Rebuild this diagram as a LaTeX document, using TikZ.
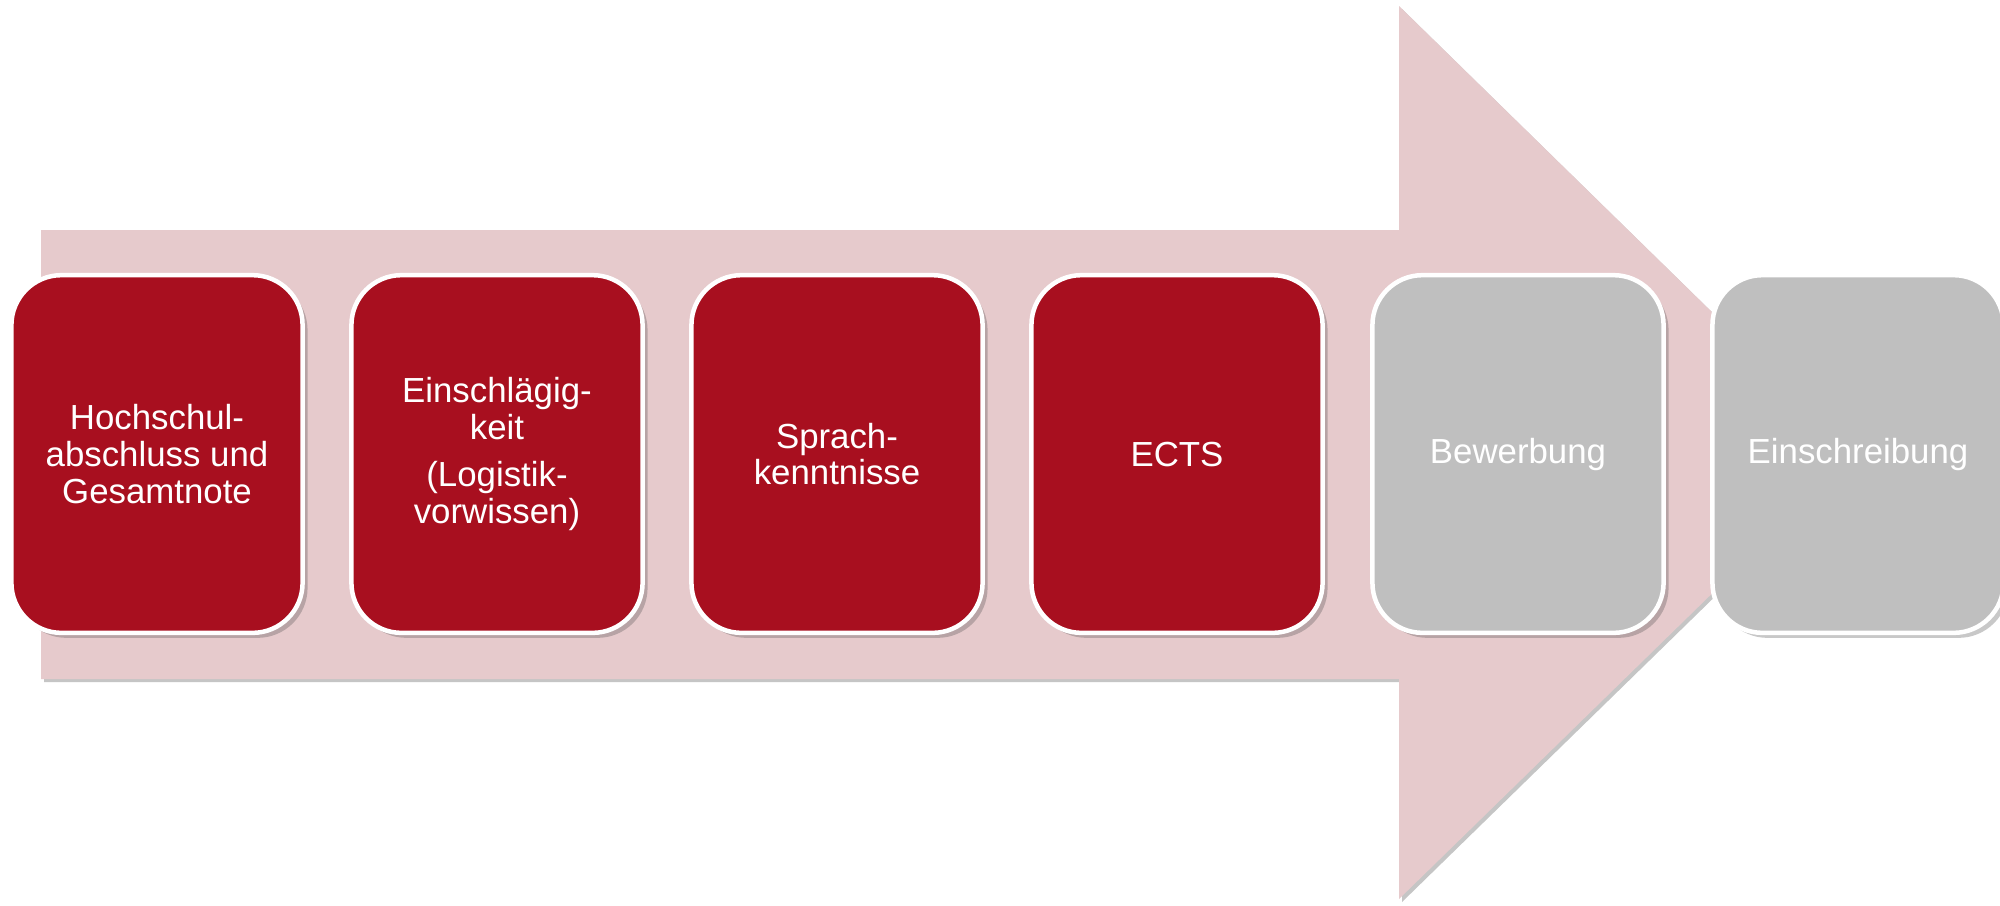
\documentclass[tikz,border=0pt]{standalone}
\usepackage{fontspec}
\setmainfont{Liberation Sans}
\usetikzlibrary{shadows}
\definecolor{arrowpink}{RGB}{230,202,204}
\definecolor{boxred}{RGB}{168,15,31}
\definecolor{boxgray}{RGB}{191,191,191}
\begin{document}
\begin{tikzpicture}[x=0.01cm,y=-0.01cm,
  stepbox/.style={draw=white, line width=0.045cm, rounded corners=0.5cm,
    minimum width=2.91cm, minimum height=3.575cm, align=center, text=white,
    font=\fontsize{9.9pt}{10.4pt}\selectfont,
    drop shadow={shadow xshift=0.05cm, shadow yshift=-0.05cm, opacity=0.3, fill=black!70}},
  redbox/.style={stepbox, fill=boxred},
  graybox/.style={stepbox, fill=boxgray}]
\clip (0,0) rectangle (2000,905);
\fill[white] (0,0) rectangle (2000,905);
% big arrow
\fill[black!45, opacity=0.5] (44,233) -- (1402,233) -- (1402,9) -- (1859,456) -- (1402,902) -- (1402,682) -- (44,682) -- cycle;
\fill[arrowpink] (41,230) -- (1399,230) -- (1399,6) -- (1856,453) -- (1399,899) -- (1399,679) -- (41,679) -- cycle;
% boxes
\node[redbox] (b1) at (157,454) {Hochschul-\\abschluss und\\Gesamtnote};
\node[redbox] (b2) at (497,454) {Einschlägig-\\keit\\[3pt](Logistik-\\vorwissen)};
\node[redbox] (b3) at (837,454) {Sprach-\\kenntnisse};
\node[redbox] (b4) at (1177,454) {ECTS};
\node[graybox] (b5) at (1518,454) {Bewerbung};
\node[graybox] (b6) at (1858,454) {Einschreibung};
\end{tikzpicture}
\end{document}
